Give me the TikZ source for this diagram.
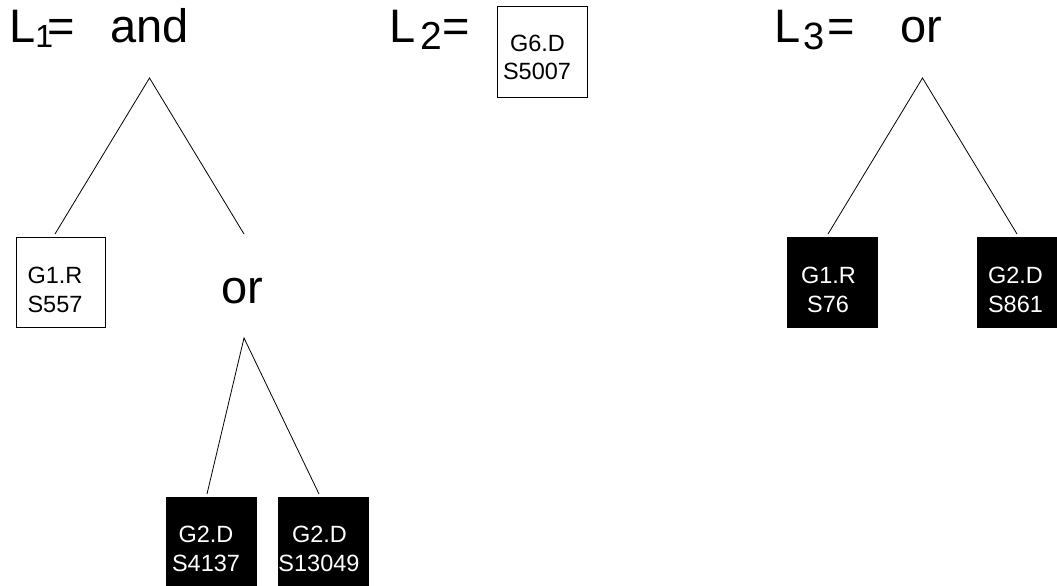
\documentclass[tikz,border=0pt]{standalone}
\usepackage{fontspec}
\setmainfont{Liberation Sans}
\newcommand{\bigtext}{\fontsize{47}{47}\selectfont}
\newcommand{\boxtext}{\fontsize{23.5}{23.5}\selectfont}
\begin{document}
\begin{tikzpicture}[x=1pt,y=-1pt,
  txt/.style={inner sep=0pt,outer sep=0pt,anchor=base west,font=\bigtext},
  subtxt/.style={inner sep=0pt,outer sep=0pt,anchor=base west},
  btxt/.style={inner sep=0pt,outer sep=0pt,anchor=base,font=\boxtext},
  wbox/.style={draw=black,line width=0.8pt,fill=white,minimum width=89pt,minimum height=90pt,inner sep=0pt},
  kbox/.style={draw=black,fill=black,minimum width=90pt,minimum height=90pt,inner sep=0pt},
  edge/.style={draw=black,line width=0.8pt}]
\useasboundingbox (0,0) rectangle (1057,586);
\fill[white] (0,0) rectangle (1057,586);
% L1 = and
\node[txt] (l1) at (9.3,43) {L\raisebox{-5pt}{\fontsize{32}{32}\selectfont 1}\kern-5.6pt=};
\node[txt] (and) at (110.3,43) {and};
\coordinate (andtop) at (149.5,78);
\coordinate (andl) at (55,234);
\coordinate (andr) at (244,234);
\node[wbox] (g1r) at (60.5,282) {};
\node[btxt] (g1ra) at (55,283) {G1.R};
\node[btxt] (g1rb) at (55,312) {S557};
\node[txt] (or1) at (221.4,303) {or};
\coordinate (ortop) at (244,338);
\coordinate (orl) at (207,494);
\coordinate (orr) at (319,494);
\node[kbox] (k1) at (211,542) {};
\node[btxt,text=white] (k1a) at (206,542) {G2.D};
\node[btxt,text=white] (k1b) at (206,571) {S4137};
\node[kbox] (k2) at (323,542) {};
\node[btxt,text=white] (k2a) at (319.5,542) {G2.D};
\node[btxt,text=white] (k2b) at (319,571) {S13049};
\draw[edge] (andl) -- (andtop) -- (andr);
\draw[edge] (orl) -- (ortop) -- (orr);
% L2
\node[txt] (l2L) at (389.6,43) {L};
\node[subtxt,font=\fontsize{39}{39}\selectfont] (l2s) at (420.8,50) {2};
\node[txt] (l2eq) at (442.7,43) {=};
\node[wbox,minimum width=90pt,minimum height=91pt] (g6d) at (542,51.5) {};
\node[btxt] (g6da) at (537.5,52) {G6.D};
\node[btxt] (g6db) at (537,80) {S5007};
% L3 = or
\node[txt] (l3L) at (774.6,43) {L};
\node[subtxt,font=\fontsize{38}{38}\selectfont] (l3s) at (803.4,49) {3};
\node[txt] (l3eq) at (827.7,43) {=};
\node[txt] (or3) at (900.4,43) {or};
\coordinate (or3top) at (922.5,78);
\coordinate (or3l) at (828,234);
\coordinate (or3r) at (1017,234);
\node[kbox] (k3) at (832.5,282) {};
\node[btxt,text=white] (k3a) at (828.5,283) {G1.R};
\node[btxt,text=white] (k3b) at (828,312) {S76};
\node[kbox] (k4) at (1022,282) {};
\node[btxt,text=white] (k4a) at (1015.5,283) {G2.D};
\node[btxt,text=white] (k4b) at (1015.5,312) {S861};
\draw[edge] (or3l) -- (or3top) -- (or3r);
\end{tikzpicture}
\end{document}
